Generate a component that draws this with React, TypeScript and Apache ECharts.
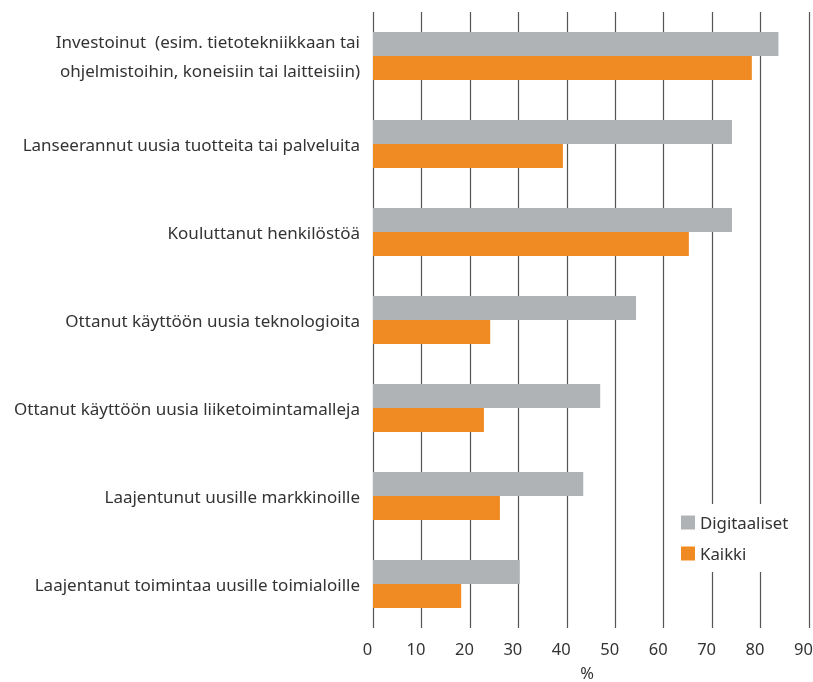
import React, { useEffect, useRef } from "react";
import * as echarts from "echarts";

const categories = [
  "Investoinut  (esim. tietotekniikkaan tai\nohjelmistoihin, koneisiin tai laitteisiin)",
  "Lanseerannut uusia tuotteita tai palveluita",
  "Kouluttanut henkilöstöä",
  "Ottanut käyttöön uusia teknologioita",
  "Ottanut käyttöön uusia liiketoimintamalleja",
  "Laajentunut uusille markkinoille",
  "Laajentanut toimintaa uusille toimialoille",
];
const digitaaliset = [83.7, 74.1, 74.1, 54.3, 46.9, 43.4, 30.3];
const kaikki = [78.2, 39.2, 65.2, 24.2, 22.9, 26.2, 18.2];
const seriesNames = ["Digitaaliset", "Kaikki"];
const axisName = "%";

const FONT = "'Noto Sans', sans-serif";

export default function App() {
  const ref = useRef<HTMLDivElement>(null);
  useEffect(() => {
    if (!ref.current) return;
    const chart = echarts.init(ref.current, null, { renderer: "svg" });
    chart.setOption({
      animation: false,
      textStyle: { fontFamily: FONT },
      grid: {
        left: 373,
        right: 4,
        top: 12,
        bottom: 54,
        containLabel: false,
        outerBoundsMode: "none",
      },
      legend: {
        data: seriesNames,
        orient: "vertical",
        left: 667,
        top: 504,
        padding: [10, 12, 10, 14],
        backgroundColor: "#ffffff",
        itemWidth: 14,
        itemHeight: 14,
        itemGap: 14,
        icon: "rect",
        textStyle: { fontSize: 16.8, color: "#333", fontFamily: FONT },
      },
      xAxis: {
        type: "value",
        min: 0,
        max: 90,
        interval: 10,
        name: axisName,
        nameLocation: "middle",
        nameGap: 37,
        nameTextStyle: {
          fontSize: 16.5,
          color: "#333",
          fontFamily: FONT,
          lineHeight: 14,
          padding: [0, 8, 0, 0],
        },
        axisLine: { show: false },
        axisTick: { show: false },
        axisLabel: {
          fontSize: 16.5,
          color: "#333",
          margin: 12,
          lineHeight: 16,
          padding: [0, 11, 0, 0],
          fontFamily: FONT,
        },
        splitLine: { show: true, lineStyle: { color: "#555", width: 1.2 } },
      },
      yAxis: {
        type: "category",
        inverse: true,
        data: categories,
        axisLine: { show: false },
        axisTick: { show: false },
        axisLabel: {
          fontSize: 17,
          color: "#333",
          margin: 13,
          lineHeight: 29,
          fontFamily: FONT,
        },
      },
      series: [
        {
          name: seriesNames[0],
          type: "bar",
          data: digitaaliset,
          barWidth: 24,
          barGap: "0%",
          itemStyle: { color: "#b0b3b6" },
        },
        {
          name: seriesNames[1],
          type: "bar",
          data: kaikki,
          barWidth: 24,
          barGap: "0%",
          itemStyle: { color: "#f08b23" },
        },
      ],
    });
    return () => chart.dispose();
  }, []);
  return (
    <div
      ref={ref}
      style={{ position: "fixed", left: 0, top: 0, width: 813, height: 682 }}
    />
  );
}
